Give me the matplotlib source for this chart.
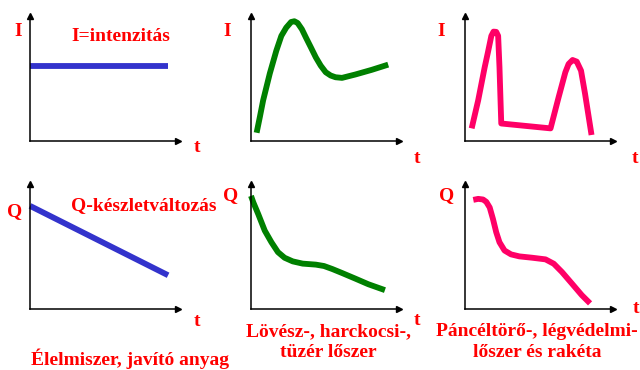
import matplotlib.pyplot as plt

# panel data (t, value), axes run 0..10 in both directions
intensity_food_t = [0, 9.33]
intensity_food = [6.03, 6.03]

intensity_ammo_t = [0.38, 0.60, 0.82, 1.27, 1.71, 2.05, 2.38, 2.71, 2.93, 3.15, 3.44,
                    3.71, 4.05, 4.38, 4.71, 5.05, 5.38, 5.71, 6.15, 7.05, 8.15, 9.27]
intensity_ammo = [0.66, 1.93, 3.25, 5.40, 7.22, 8.41, 9.07, 9.52, 9.58, 9.44, 8.94,
                  8.28, 7.48, 6.69, 6.03, 5.50, 5.24, 5.10, 5.05, 5.32, 5.69, 6.11]

intensity_rocket_t = [0.45, 0.89, 1.33, 1.55, 1.78, 1.93, 2.11, 2.24, 2.33, 2.40, 2.45,
                      5.78, 6.33, 6.78, 7.0, 7.27, 7.55, 7.84, 8.11, 8.55]
intensity_rocket = [1.01, 3.25, 5.90, 7.10, 8.41, 8.75, 8.73, 8.41, 5.90, 3.25, 1.40,
                    1.01, 3.52, 5.50, 6.16, 6.48, 6.35, 5.63, 3.79, 0.48]

stock_food_t = [0, 9.33]
stock_food = [8.25, 2.70]

stock_ammo_t = [0.0, 0.16, 0.49, 0.93, 1.38, 1.82, 2.27, 2.82, 3.49, 4.38, 4.93, 5.49,
                6.15, 7.05, 7.93, 9.05]
stock_ammo = [9.05, 8.52, 7.59, 6.27, 5.34, 4.55, 4.10, 3.81, 3.63, 3.55, 3.44, 3.20,
              2.88, 2.43, 1.98, 1.51]

stock_rocket_t = [0.56, 0.89, 1.22, 1.44, 1.67, 1.89, 2.11, 2.33, 2.67, 3.11, 3.67,
                  4.55, 5.44, 6.0, 6.55, 7.22, 7.89, 8.45]
stock_rocket = [8.73, 8.81, 8.76, 8.57, 8.12, 7.20, 6.14, 5.34, 4.68, 4.37, 4.21,
                4.10, 3.97, 3.62, 2.96, 2.04, 1.11, 0.45]

BLUE = '#3333cc'
GREEN = '#008000'
PINK = '#ff0066'
RED = '#ff0000'

W, H = 640, 370
fig = plt.figure(figsize=(6.4, 3.7), dpi=100)


def panel(left, top, t, vals, color):
    # left/top of axis corner in pixels, axis 148 x 125 px
    ax = fig.add_axes([left / W, 1 - (top + 125) / H, 148 / W, 125 / H])
    ax.set_xlim(0, 10)
    ax.set_ylim(0, 10)
    for s in ['top', 'right']:
        ax.spines[s].set_visible(False)
    for s in ['left', 'bottom']:
        ax.spines[s].set_linewidth(1.1)
    ax.set_xticks([])
    ax.set_yticks([])
    ax.patch.set_alpha(0)
    ax.plot(1, 0, '>k', ms=4, transform=ax.get_yaxis_transform(), clip_on=False)
    ax.plot(0, 1, '^k', ms=4, transform=ax.get_xaxis_transform(), clip_on=False)
    ax.plot(t, vals, color=color, lw=4.2, solid_joinstyle='round',
            solid_capstyle='butt', clip_on=False)
    return ax


panel(30, 16, intensity_food_t, intensity_food, BLUE)
panel(251, 16, intensity_ammo_t, intensity_ammo, GREEN)
panel(465, 16, intensity_rocket_t, intensity_rocket, PINK)
panel(30, 184, stock_food_t, stock_food, BLUE)
panel(251, 184, stock_ammo_t, stock_ammo, GREEN)
panel(465, 184, stock_rocket_t, stock_rocket, PINK)


def label(x, y, s, size=14, ha='center'):
    fig.text(x / W, 1 - y / H, s, color=RED, fontsize=size, fontweight='bold',
             family='Liberation Serif', ha=ha, va='baseline')


# axis letters
label(18, 36, 'I')
label(227, 36, 'I')
label(441, 36, 'I')
label(197, 152, 't')
label(417, 163, 't')
label(635, 163, 't')
label(15, 216, 'Q')
label(231, 200, 'Q')
label(447, 200, 'Q')
label(197, 326, 't')
label(417, 325, 't')
label(636, 313, 't')

# descriptions
label(121, 41, 'I=intenzitás')
label(144, 210, 'Q-készletváltozás')
label(130, 365, 'Élelmiszer, javító anyag')
label(328, 336, 'Lövész-, harckocsi-,')
label(328, 357, 'tüzér lőszer')
label(537, 336, 'Páncéltörő-, légvédelmi-')
label(537, 357, 'lőszer és rakéta')

fig.savefig('out.png', dpi=100)
